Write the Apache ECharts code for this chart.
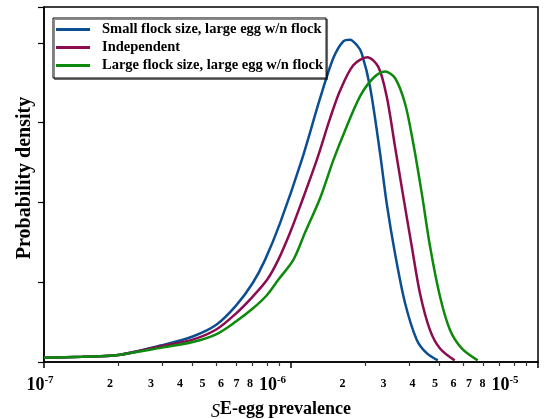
<!DOCTYPE html>
<html>
<head>
<meta charset="utf-8">
<script src="https://cdn.jsdelivr.net/npm/echarts@6/dist/echarts.min.js"></script>
<style>html,body{margin:0;padding:0;background:#fff}#c{width:557px;height:419px}</style>
</head>
<body>
<div id="c"></div>
<script>
var seriesNames = ['Small flock size, large egg w/n flock', 'Independent', 'Large flock size, large egg w/n flock'];

var smallX = [1e-7, 1.43e-7, 2e-7, 3e-7, 4e-7, 5e-7, 6e-7, 7e-7, 7.85e-7, 9.03e-7, 1.105e-6, 1.31e-6, 1.484e-6, 1.628e-6, 1.734e-6, 1.85e-6, 1.933e-6, 2.089e-6, 2.293e-6, 2.44e-6, 2.637e-6, 2.895e-6, 3.228e-6, 3.543e-6, 3.93e-6];
var smallY = [0.054, 0.067, 0.088, 0.21, 0.32, 0.47, 0.71, 0.99, 1.28, 1.74, 2.53, 3.30, 3.81, 4.02, 4.04, 3.97, 3.87, 3.45, 2.62, 1.99, 1.36, 0.74, 0.28, 0.11, 0.02];

var indepX = [1e-7, 1.43e-7, 2e-7, 3e-7, 4e-7, 5e-7, 6e-7, 7e-7, 8e-7, 8.88e-7, 9.91e-7, 1.088e-6, 1.271e-6, 1.438e-6, 1.579e-6, 1.787e-6, 2.037e-6, 2.257e-6, 2.44e-6, 2.637e-6, 2.85e-6, 3.082e-6, 3.329e-6, 3.654e-6, 4.011e-6, 4.6e-6];
var indepY = [0.054, 0.067, 0.088, 0.20, 0.28, 0.41, 0.61, 0.82, 1.03, 1.28, 1.62, 1.95, 2.53, 3.05, 3.40, 3.72, 3.82, 3.70, 3.33, 2.70, 2.07, 1.45, 0.86, 0.40, 0.17, 0.02];

var largeX = [1e-7, 1.43e-7, 2e-7, 3e-7, 4e-7, 5e-7, 6e-7, 7e-7, 8e-7, 8.88e-7, 1.022e-6, 1.139e-6, 1.31e-6, 1.484e-6, 1.654e-6, 1.903e-6, 2.154e-6, 2.402e-6, 2.637e-6, 2.895e-6, 3.127e-6, 3.382e-6, 3.654e-6, 4.011e-6, 4.403e-6, 4.911e-6, 5.7e-6];
var largeY = [0.054, 0.067, 0.088, 0.18, 0.25, 0.35, 0.51, 0.67, 0.84, 1.03, 1.28, 1.62, 2.05, 2.53, 2.90, 3.33, 3.56, 3.64, 3.56, 3.24, 2.74, 2.12, 1.45, 0.82, 0.40, 0.17, 0.02];

var majorTicks = [1e-7, 1e-6, 1e-5];
var minorTicks = [2e-7, 3e-7, 4e-7, 5e-7, 6e-7, 7e-7, 8e-7, 9e-7, 2e-6, 3e-6, 4e-6, 5e-6, 6e-6, 7e-6, 8e-6, 9e-6];
var tickLabels = [1e-7, 2e-7, 3e-7, 4e-7, 5e-7, 6e-7, 7e-7, 8e-7, 1e-6, 2e-6, 3e-6, 4e-6, 5e-6, 6e-6, 7e-6, 8e-6, 1e-5];

var colors = ['#0b4e92', '#8b0c4f', '#0d8a0d'];
var FF = '"Liberation Serif", "DejaVu Serif", serif';

function zip(xs, ys) { return xs.map(function (x, i) { return [x, ys[i]]; }); }

function fmt(value) {
  var v = value;
  if (v <= 0 || v >= 1) v = Math.pow(10, v);
  var e = Math.floor(Math.log10(v) + 1e-9);
  var m = Math.round(v / Math.pow(10, e));
  if (m === 1) return '{b|10}{sup|-' + Math.abs(e) + '}';
  return '{m|' + m + '}';
}

var chart = echarts.init(document.getElementById('c'), null, { renderer: 'canvas' });
var dataSets = [zip(smallX, smallY), zip(indepX, indepY), zip(largeX, largeY)];

chart.setOption({
  animation: false,
  backgroundColor: '#fff',
  color: colors,
  grid: [
    { left: 44, right: 19, top: 7, bottom: 57, show: true, borderColor: '#000', borderWidth: 1.5, backgroundColor: 'transparent' },
    { left: 40, width: 465, top: 7, bottom: 57, show: false }
  ],
  legend: {
    orient: 'vertical', left: 53, top: 18,
    padding: [4, 3, 5, 3],
    itemWidth: 34, itemHeight: 3, itemGap: 3, icon: 'rect',
    borderColor: '#000', borderWidth: 1, backgroundColor: '#fff',
    shadowColor: 'rgba(0,0,0,0.45)', shadowOffsetX: 1.5, shadowOffsetY: 1.5, shadowBlur: 0,
    data: seriesNames,
    textStyle: { fontFamily: FF, fontWeight: 'bold', fontSize: 14.5, color: '#000', lineHeight: 14, padding: [0, 0, 0, 7] }
  },
  xAxis: [
    { type: 'log', gridIndex: 0, min: 1e-7, max: 1e-5, logBase: 10,
      axisLine: { show: true, onZero: false, lineStyle: { color: '#000', width: 1.5 } },
      axisTick: { show: true, customValues: majorTicks, length: 6, lineStyle: { color: '#000', width: 1.5 } },
      axisLabel: { show: false }, splitLine: { show: false }, minorTick: { show: false } },
    { type: 'log', gridIndex: 0, min: 1e-7, max: 1e-5, logBase: 10, position: 'bottom',
      axisLine: { show: false },
      axisTick: { show: true, customValues: minorTicks, length: 4, lineStyle: { color: '#333', width: 1.2 } },
      axisLabel: { show: false }, splitLine: { show: false } },
    { type: 'log', gridIndex: 1, min: 1e-7, max: 1e-5, logBase: 10,
      axisLine: { show: false }, axisTick: { show: false }, splitLine: { show: false },
      axisLabel: {
        show: true, customValues: tickLabels, margin: 12, formatter: fmt, color: '#000',
        rich: {
          b: { fontFamily: FF, fontWeight: 'bold', fontSize: 18, lineHeight: 22, color: '#000' },
          sup: { fontFamily: FF, fontWeight: 'bold', fontSize: 11, color: '#000', padding: [0, 0, 9, 0] },
          m: { fontFamily: FF, fontWeight: 'bold', fontSize: 12, lineHeight: 22, color: '#000', padding: [0, 0, 2, 0] }
        }
      } }
  ],
  yAxis: [
    { type: 'value', gridIndex: 0, min: 0, max: 4.45, interval: 1,
      axisLine: { show: true, lineStyle: { color: '#000', width: 1.5 } },
      axisTick: { show: true, length: 6, lineStyle: { color: '#000', width: 1.2 } },
      axisLabel: { show: false }, splitLine: { show: false } },
    { type: 'value', gridIndex: 1, min: 0, max: 1, show: false }
  ],
  graphic: [
    { type: 'text', x: 25, y: 178, rotation: Math.PI / 2,
      style: { text: 'Probability density', fontFamily: FF, fontWeight: 'bold', fontSize: 20, fill: '#000', align: 'center', verticalAlign: 'middle' } },
    { type: 'text', x: 281, y: 409,
      style: { text: '{s|S}E-egg prevalence', fontFamily: FF, fontWeight: 'bold', fontSize: 18, fill: '#000', align: 'center', verticalAlign: 'middle',
        rich: { s: { fontFamily: FF, fontStyle: 'italic', fontSize: 18, fill: '#000', padding: [7, 0, 0, 0] } } } }
  ],
  series: seriesNames.map(function (n, i) {
    return { name: n, type: 'line', xAxisIndex: 0, yAxisIndex: 0, data: dataSets[i], smooth: 0.3,
      showSymbol: false, symbol: 'none', lineStyle: { width: 2.5, color: colors[i] } };
  })
});
</script>
</body>
</html>
